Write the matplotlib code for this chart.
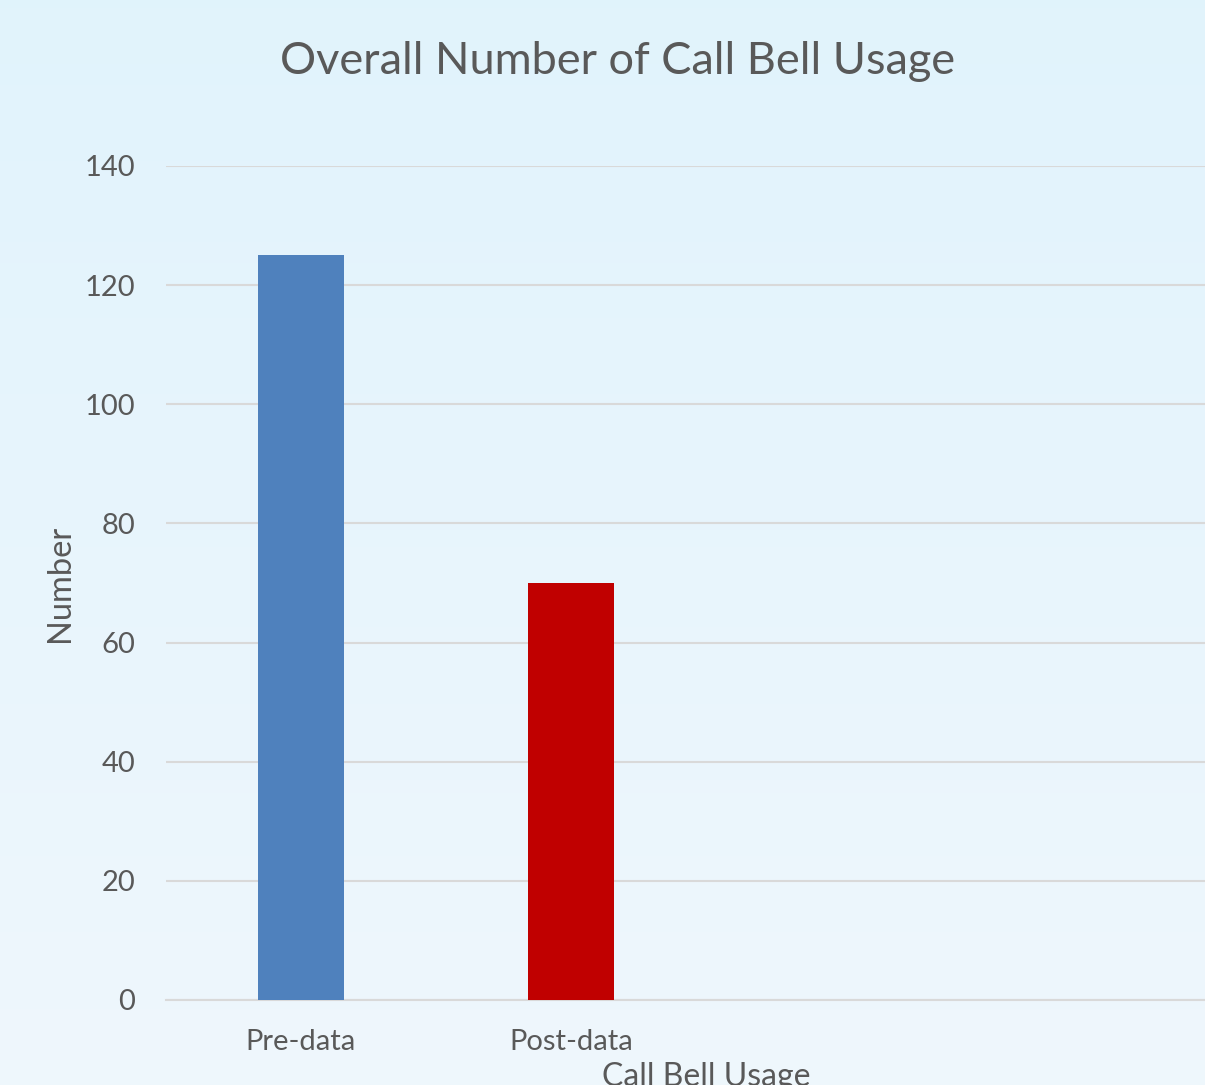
import numpy as np
import matplotlib
matplotlib.use("Agg")
import matplotlib.pyplot as plt

plt.rcParams['font.family'] = ['Lato', 'DejaVu Sans']

# data
categories = ['Pre-data', 'Post-data']
values = [125, 70]
colors = ['#4F81BD', '#C00000']
yticks = [0, 20, 40, 60, 80, 100, 120, 140]

W, H = 1205, 1085
fig = plt.figure(figsize=(W / 100, H / 100), dpi=100)

# light blue background gradient
bg = fig.add_axes([0, 0, 1, 1], zorder=-10)
grad = np.linspace(0, 1, 256).reshape(-1, 1)
top = np.array([0.882, 0.953, 0.988])
bot = np.array([0.937, 0.969, 0.992])
img = top + (bot - top) * grad[..., None]
bg.imshow(img, aspect='auto', extent=[0, 1, 0, 1], origin='upper')
bg.set_axis_off()

ax = fig.add_axes([166 / W, 1 - 1000 / H, 1 - 166 / W, (1000 - 166) / H])
ax.patch.set_alpha(0)

x = np.arange(len(categories))
ax.bar(x, values, width=0.315, color=colors, zorder=3)

ax.set_ylim(0, 140)
ax.set_xlim(-0.5, (W - 166) / 270 - 0.5)
ax.set_yticks(yticks)
ax.set_xticks(x)
ax.set_xticklabels(categories)
ax.grid(axis='y', color='#D9D9D9', linewidth=1.5, zorder=0)
for s in ['top', 'right', 'left']:
    ax.spines[s].set_visible(False)
ax.spines['bottom'].set_color('#D9D9D9')
ax.spines['bottom'].set_linewidth(1.5)
ax.tick_params(axis='both', length=0, labelsize=21, colors='#595959')
ax.tick_params(axis='y', pad=22)
ax.tick_params(axis='x', pad=21)

fig.text(618 / W, 1 - 62 / H, 'Overall Number of Call Bell Usage', ha='center', va='center',
         fontsize=32.5, color='#595959')
fig.text(60 / W, 1 - 583 / H, 'Number', ha='center', va='center', rotation=90,
         fontsize=23.5, color='#595959')
fig.text(706 / W, 1 - 1062 / H, 'Call Bell Usage', ha='center', va='top',
         fontsize=23, color='#595959')

fig.savefig('out.png', dpi=100)
